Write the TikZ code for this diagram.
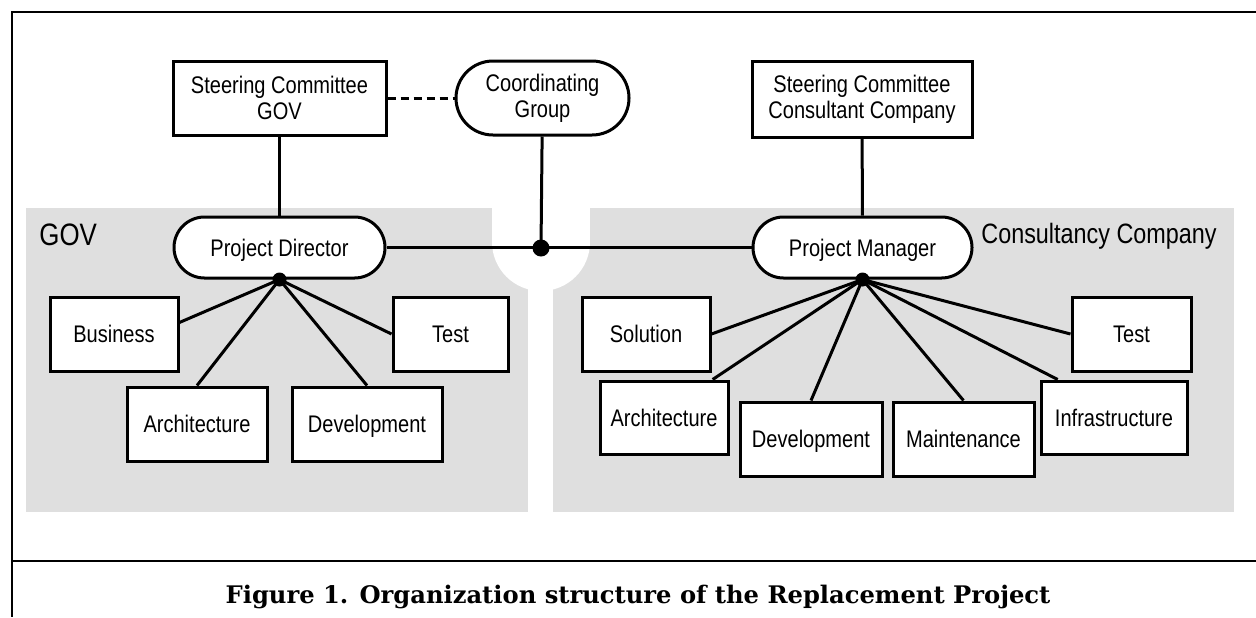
\documentclass[tikz,border=0pt]{standalone}
\usepackage{fontspec}
\setmainfont{Liberation Sans}[FakeStretch=0.835]
\newfontfamily\capfont{DejaVu Serif}
\usetikzlibrary{positioning,calc}

\definecolor{groupgray}{RGB}{223,223,223}

\tikzset{
  unit/.style={draw, line width=1.5pt, fill=white, inner sep=0pt,
    minimum height=37pt, align=center, font=\fontsize{12}{13}\selectfont},
  leaf/.style={unit, text height=8.6pt, text depth=0pt},
  lead/.style={leaf, rounded corners=15.25pt, minimum height=30.5pt},
  dot/.style={circle, fill=black, inner sep=0pt, minimum size=7pt},
  grouplabel/.style={inner sep=0pt, font=\fontsize{14}{16}\selectfont},
  link/.style={line width=1.5pt},
}

\begin{document}
\begin{tikzpicture}[x=0.5pt, y=-0.5pt]
  \useasboundingbox (0,0) rectangle (1256,617);

  % frame and caption rule
  \draw[line width=1.3pt] (1256,12) -- (12,12) -- (12,617);
  \draw[line width=1.3pt] (12,561) -- (1256,561);

  % the two organisations
  \fill[groupgray] (26,208) rectangle (528,512);
  \fill[groupgray] (553,208) rectangle (1234,512);
  \fill[white] (492,208) rectangle (590,242);
  \fill[white] (541,242) circle[radius=24.5pt];
  \node[grouplabel, anchor=base west, font=\fontsize{15.5}{18}\selectfont] (govlbl) at (39,245) {GOV};
  \node[grouplabel, anchor=base east] (conlbl) at (1217,243) {Consultancy Company};

  \node[unit, minimum width=106.5pt] (scg) at (279.5,98) {Steering Committee\\GOV};
  \node[unit, minimum width=86.5pt, rounded corners=18.5pt] (cg) at (542.5,98) {Coordinating\\Group};
  \node[unit, minimum width=110pt, minimum height=38pt] (scc) at (862,99.5) {Steering Committee\\Consultant Company};

  \node[lead, minimum width=105.5pt] (pd) at (279.5,247.5) {Project Director};
  \node[lead, minimum width=109.5pt] (pm) at (862.5,247.5) {Project Manager};

  \node[leaf, minimum width=64pt] (biz) at (114,334) {Business};
  \node[leaf, minimum width=57.5pt] (testL) at (450.5,334) {Test};
  \node[leaf, minimum width=70pt] (archL) at (197,424) {Architecture};
  \node[leaf, minimum width=75pt] (devL) at (367,424) {Development};

  \node[leaf, minimum width=64pt] (sol) at (646,334) {Solution};
  \node[leaf, minimum width=64pt, minimum height=36.5pt] (archR) at (664,417.5) {Architecture};
  \node[leaf, minimum width=71pt] (devR) at (811,439) {Development};
  \node[leaf, minimum width=70.5pt] (mnt) at (963.5,439) {Maintenance};
  \node[leaf, minimum width=73pt, minimum height=36.5pt] (infra) at (1114,417.5) {Infrastructure};
  \node[leaf, minimum width=59.5pt] (testR) at (1131.5,334) {Test};

  \coordinate (jn) at (541,248);
  \coordinate (pdd) at (pd.south);
  \coordinate (pmd) at (pm.south);

  \draw[link, dash pattern=on 4pt off 2.5pt] (scg) -- (cg);
  \draw[link] (scg) -- (pd);
  \draw[link] (scc) -- (pm);
  \draw[link] (cg) -- (jn);
  \draw[link] (pd) -- (pm);

  \foreach \to in {biz.10, testL.west, archL.north, devL.north}
    \draw[link] (pdd) -- (\to);
  \foreach \to in {sol.east, archR.38, devR.north, mnt.north, infra.146, testR.west}
    \draw[link] (pmd) -- (\to);

  \node[dot, minimum size=8.5pt] (jndot) at (jn) {};
  \node[dot] (pddot) at (pdd) {};
  \node[dot] (pmdot) at (pmd) {};

  \node[anchor=base, font=\capfont\bfseries\fontsize{12.1}{14}\selectfont] (cap)
    at (638,603) {Figure 1. Organization structure of the Replacement Project};
\end{tikzpicture}
\end{document}
